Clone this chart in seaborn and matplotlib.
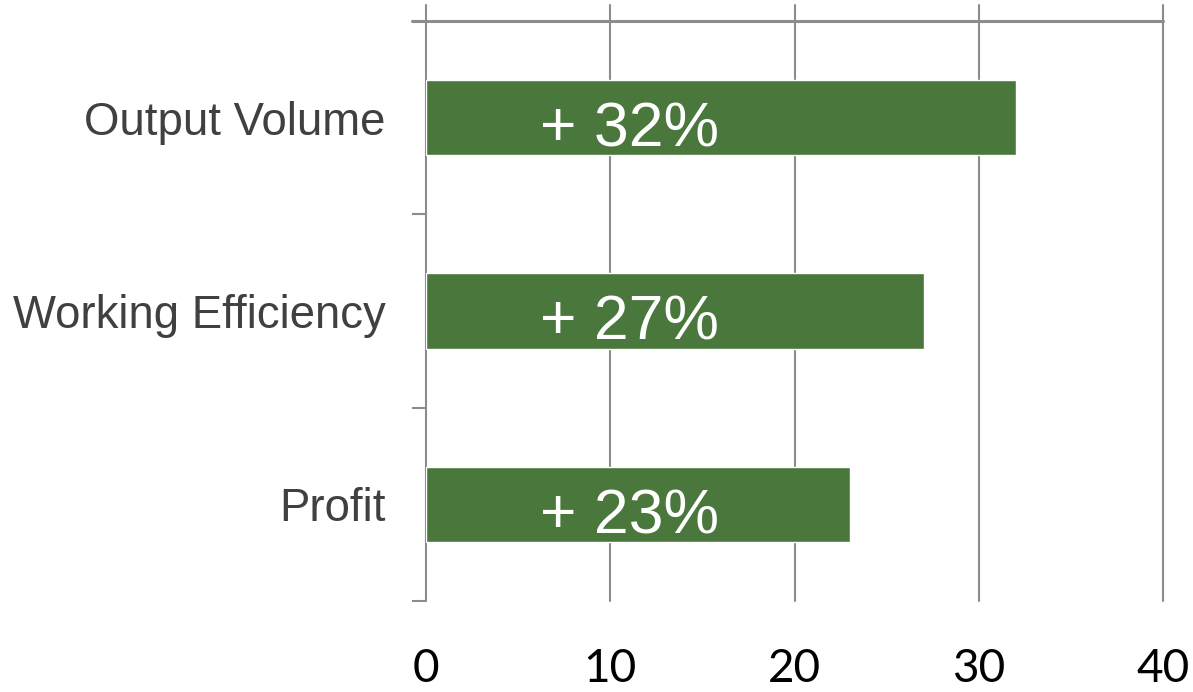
import pandas as pd
import matplotlib.pyplot as plt
import seaborn as sns

categories = ["Output Volume", "Working Efficiency", "Profit"]
values = [32, 27, 23]
labels = ["+ 32%", "+ 27%", "+ 23%"]
x_ticks = [0, 10, 20, 30, 40]

df = pd.DataFrame({"Category": categories, "Value": values})

sns.set_style("white")
plt.rcParams["font.family"] = ["Liberation Sans", "DejaVu Sans"]

grid_color = "#8c8c8c"
bar_color = "#4a783c"

fig = plt.figure(figsize=(11.93, 6.92), dpi=100)
ax = fig.add_axes([0.3571, 0.1315, 0.6178, 0.8613])

sns.barplot(data=df, x="Value", y="Category", orient="h", color=bar_color,
            saturation=1, width=0.388, ax=ax, zorder=3)

ax.set_xlim(0, 40)
ax.set_ylim(2.5, -0.5828)
ax.set_xlabel("")
ax.set_ylabel("")

for s in ax.spines.values():
    s.set_visible(False)

# vertical gridlines
for v in x_ticks:
    ax.axvline(v, color=grid_color, lw=1.5, zorder=1, clip_on=False)
# top boundary line
ax.plot([-0.76, 40], [-0.5, -0.5], color=grid_color, lw=2.2, zorder=2, clip_on=False)

# category ticks at boundaries
ax.set_yticks([-0.5, 0.5, 1.5, 2.5], minor=True)
ax.tick_params(axis="y", which="minor", length=10, width=1.5, color=grid_color, left=True)
ax.tick_params(axis="y", which="major", length=0, pad=29, labelsize=32.8, labelcolor="#404040")

ax.set_xticks(x_ticks)
ax.set_xticklabels([str(t) for t in x_ticks], fontfamily="Lato")
ax.tick_params(axis="x", length=0, pad=34, labelsize=33, labelcolor="black")

for i, (v, lab) in enumerate(zip(values, labels)):
    ax.text(6.2, i + 0.15, lab, color="white", fontsize=45, ha="left",
            va="baseline", zorder=4)

fig.savefig("out.png", dpi=100)
